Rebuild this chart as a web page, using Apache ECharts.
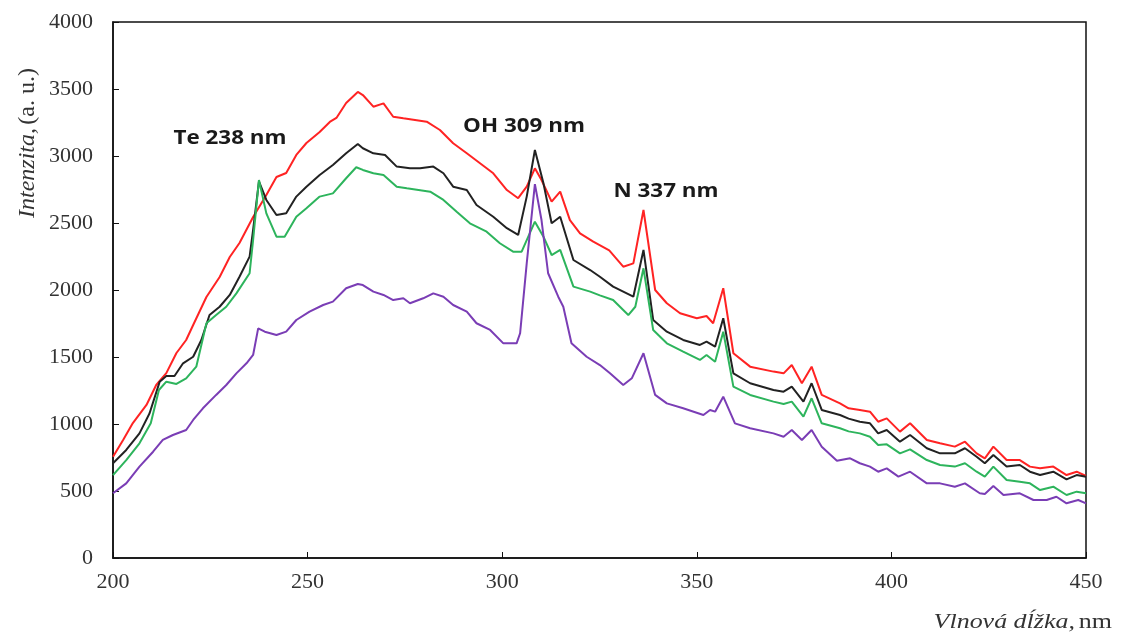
<!DOCTYPE html>
<html>
<head>
<meta charset="utf-8">
<script src="https://cdn.jsdelivr.net/npm/echarts@6/dist/echarts.min.js"></script>
<style>
  html, body { margin: 0; padding: 0; background: #fff; }
  #chart { width: 1126px; height: 637px; }
</style>
</head>
<body>
<div id="chart"></div>
<script>
// wavelength (nm) and intensity (a. u.)
const redNm = [200, 202.6, 205.1, 208.6, 211.1, 213.7, 216.3, 218.8, 220.6, 224, 227.4, 230, 232.5, 236, 239.4, 242, 244.5, 247.1, 249.7, 253.1, 255.7, 257.4, 259.9, 262.9, 264.2, 266.9, 269.5, 272, 274.6, 280.6, 284, 287.4, 290.9, 294.3, 297.7, 301.2, 304.1, 306.3, 308.4, 310.1, 312.7, 314.9, 317.4, 320, 323.4, 327.5, 331.1, 333.7, 336.3, 339.3, 342.3, 345.7, 350, 352.5, 354.2, 356.8, 359.4, 363.7, 369.7, 372.3, 374.4, 377, 379.5, 382.1, 386.8, 389, 391.9, 394.5, 396.6, 398.8, 402.2, 404.8, 409.1, 412.5, 416.3, 418.9, 421.9, 424, 426.2, 429.6, 433, 435.6, 438.2, 441.6, 445, 447.6, 450];
const redVal = [755, 880, 1007, 1142, 1291, 1380, 1530, 1627, 1739, 1948, 2097, 2246, 2351, 2545, 2709, 2843, 2873, 3008, 3097, 3179, 3254, 3284, 3396, 3478, 3455, 3368, 3393, 3293, 3281, 3256, 3194, 3095, 3020, 2946, 2871, 2746, 2685, 2771, 2908, 2821, 2659, 2734, 2522, 2423, 2361, 2295, 2174, 2199, 2597, 2000, 1901, 1826, 1789, 1806, 1752, 2013, 1528, 1428, 1391, 1378, 1440, 1304, 1428, 1217, 1154, 1117, 1105, 1092, 1017, 1042, 943, 1005, 881, 856, 831, 868, 781, 744, 831, 731, 731, 682, 669, 682, 619, 644, 612];

const blackNm = [200, 203.4, 206.8, 209.4, 212, 213.7, 215.8, 218, 220.6, 222.7, 224.8, 227.4, 230, 232.5, 235.1, 236, 237.5, 239.4, 242, 244.5, 247.1, 249.7, 253.1, 256.5, 259.9, 262.9, 264.2, 266.9, 269.9, 272.9, 276.3, 278.9, 282.3, 284.9, 287.4, 290.9, 293.4, 297.7, 301.2, 304.1, 306.3, 308.4, 310.6, 312.7, 314.9, 318.3, 322.6, 325.1, 328.5, 333.7, 336.3, 338.8, 342.3, 346.5, 350.8, 352.5, 354.7, 356.8, 359.4, 363.7, 369.7, 372.3, 374.4, 377.4, 379.5, 382.1, 386.8, 389, 391.9, 394.5, 396.6, 398.8, 402.2, 404.8, 409.1, 412.5, 416.3, 418.9, 421.9, 424, 426.2, 429.6, 433, 435.6, 438.2, 441.6, 445, 447.6, 450];
const blackVal = [707, 806, 930, 1080, 1316, 1358, 1358, 1453, 1502, 1627, 1813, 1875, 1963, 2099, 2249, 2448, 2810, 2672, 2560, 2572, 2697, 2771, 2858, 2933, 3020, 3090, 3058, 3020, 3008, 2921, 2908, 2908, 2921, 2871, 2771, 2746, 2634, 2547, 2461, 2411, 2697, 3045, 2796, 2498, 2547, 2224, 2149, 2099, 2025, 1950, 2299, 1776, 1689, 1627, 1590, 1614, 1577, 1789, 1378, 1304, 1254, 1241, 1279, 1167, 1304, 1105, 1067, 1040, 1017, 1005, 930, 955, 868, 918, 819, 781, 781, 819, 756, 707, 769, 682, 694, 644, 619, 644, 587, 619, 607];

const greenNm = [200, 203.4, 206.8, 209.7, 211.8, 213.7, 216.3, 218.8, 221.4, 224, 226.5, 229.1, 231.7, 235.1, 236, 237.5, 239.4, 242, 244.1, 247.1, 249.7, 253.1, 256.5, 259.9, 262.5, 264.2, 266.9, 269.5, 272.9, 275.5, 281.5, 284.9, 288.3, 291.7, 296, 299.4, 302.8, 305, 306.7, 308.4, 310.6, 312.7, 314.9, 318.3, 322.6, 325.1, 328.5, 332.4, 334.2, 336.3, 338.8, 342.3, 346.5, 350.8, 352.5, 354.7, 356.8, 359.4, 363.7, 369.7, 372.3, 374.4, 377.4, 379.5, 382.1, 386.8, 389, 391.9, 394.5, 396.6, 398.8, 402.2, 404.8, 409.1, 412.5, 416.3, 418.9, 421.9, 424, 426.2, 429.6, 433, 435.6, 438.2, 441.6, 445, 447.6, 450];
const greenVal = [619, 731, 856, 1005, 1254, 1316, 1299, 1341, 1428, 1752, 1813, 1875, 1975, 2125, 2373, 2821, 2572, 2398, 2398, 2547, 2610, 2697, 2721, 2834, 2916, 2896, 2871, 2858, 2771, 2759, 2734, 2672, 2584, 2498, 2435, 2349, 2286, 2286, 2398, 2510, 2398, 2261, 2299, 2025, 1988, 1960, 1925, 1813, 1875, 2162, 1701, 1602, 1540, 1478, 1515, 1465, 1689, 1279, 1217, 1167, 1149, 1167, 1055, 1192, 1005, 968, 945, 930, 905, 843, 848, 781, 811, 731, 694, 682, 707, 644, 607, 682, 582, 569, 557, 507, 532, 470, 495, 483];

const purpleNm = [200, 203.4, 206.8, 210.3, 212.8, 215.4, 218.8, 220.6, 223.1, 226.5, 229.1, 231.7, 234.3, 236, 237.3, 239, 242, 244.5, 247.1, 250.5, 254, 256.5, 259.9, 262.9, 264.2, 266.9, 269.5, 272, 274.6, 276.3, 279.7, 282.3, 284.9, 287.4, 290.9, 293.4, 296.9, 300.3, 303.7, 304.6, 306.3, 308.4, 310.1, 311.8, 314.4, 315.7, 317.8, 321.7, 325.1, 327.7, 331.1, 333.3, 336.3, 339.3, 342.3, 346.5, 351.7, 353.4, 354.7, 356.8, 359.8, 363.7, 369.7, 372.3, 374.4, 377, 379.5, 382.1, 386, 389.4, 391.9, 394.5, 396.6, 398.8, 401.8, 404.8, 409.1, 412.5, 416.3, 418.9, 422.7, 424, 426.2, 428.8, 433, 436.5, 439.9, 442.4, 445, 448, 450];
const purpleVal = [483, 557, 682, 793, 881, 918, 955, 1030, 1117, 1217, 1291, 1378, 1453, 1515, 1714, 1689, 1664, 1689, 1776, 1838, 1888, 1913, 2013, 2045, 2037, 1988, 1963, 1925, 1938, 1901, 1938, 1975, 1950, 1888, 1838, 1752, 1702, 1602, 1602, 1677, 2199, 2790, 2522, 2125, 1950, 1875, 1602, 1502, 1440, 1378, 1291, 1341, 1528, 1217, 1154, 1117, 1067, 1105, 1092, 1204, 1005, 968, 930, 905, 955, 881, 955, 831, 725, 744, 707, 682, 644, 669, 607, 644, 557, 557, 532, 557, 483, 478, 537, 470, 483, 433, 433, 457, 408, 433, 408];

const xTicks = [200, 250, 300, 350, 400, 450];
const yMax = 4000;

const peakLabels = [
  { text: "Te 238 nm", x: 230, y: 139 },
  { text: "OH 309 nm", x: 524, y: 127 },
  { text: "N 337 nm", x: 666, y: 192 }
];

function pairs(xs, ys) {
  return xs.map((x, i) => [x, ys[i]]);
}

const chart = echarts.init(document.getElementById("chart"));
const serif = "Liberation Serif";
const lineSeries = (name, xs, ys, color) => ({
  name: name,
  type: "line",
  data: pairs(xs, ys),
  symbol: "none",
  smooth: false,
  lineStyle: { color: color, width: 2 },
  itemStyle: { color: color }
});

const option = {
  animation: false,
  backgroundColor: "#fff",
  grid: {
    left: 113,
    right: 40,
    top: 22,
    bottom: 79,
    show: true,
    borderColor: "#111",
    borderWidth: 1.5
  },
  xAxis: {
    type: "value",
    min: xTicks[0],
    max: xTicks[xTicks.length - 1],
    interval: 50,
    axisLine: { lineStyle: { color: "#111", width: 1.5 } },
    axisTick: { inside: true, length: 6, lineStyle: { color: "#111" } },
    splitLine: { show: false },
    axisLabel: { color: "#333", fontFamily: serif, fontSize: 22, margin: 13 }
  },
  yAxis: {
    type: "value",
    min: 0,
    max: yMax,
    interval: 500,
    axisLine: { show: true, lineStyle: { color: "#111", width: 1.5 } },
    axisTick: { show: true, inside: true, length: 6, lineStyle: { color: "#111" } },
    splitLine: { show: false },
    axisLabel: {
      color: "#333",
      fontFamily: serif,
      fontSize: 22,
      margin: 20,
      formatter: v => String(v)
    }
  },
  series: [
    lineSeries("red", redNm, redVal, "#ff2323"),
    lineSeries("black", blackNm, blackVal, "#222222"),
    lineSeries("green", greenNm, greenVal, "#2db45c"),
    lineSeries("purple", purpleNm, purpleVal, "#7a3db5")
  ],
  graphic: peakLabels.map(l => ({
    type: "text",
    x: l.x,
    y: l.y,
    scaleX: 1.18,
    style: {
      text: l.text,
      fill: "#1a1a1a",
      font: "bold 19px 'Open Sans', sans-serif",
      textAlign: "center",
      textVerticalAlign: "middle"
    }
  })).concat([
    {
      type: "text",
      x: 28,
      y: 143,
      rotation: Math.PI / 2,
      style: {
        text: "{i|Intenzita,} {n|(a. u.)}",
        textAlign: "center",
        textVerticalAlign: "middle",
        rich: {
          i: { fontFamily: serif, fontStyle: "italic", fontSize: 24, fill: "#333" },
          n: { fontFamily: serif, fontSize: 24, fill: "#333" }
        }
      }
    },
    {
      type: "text",
      x: 1112,
      y: 622,
      scaleX: 1.18,
      style: {
        text: "{i|Vlnová dĺžka,} {n|nm}",
        textAlign: "right",
        textVerticalAlign: "middle",
        rich: {
          i: { fontFamily: serif, fontStyle: "italic", fontSize: 22, fill: "#333" },
          n: { fontFamily: serif, fontSize: 22, fill: "#333" }
        }
      }
    }
  ])
};

chart.setOption(option);
window.addEventListener("resize", chart.resize);
</script>
</body>
</html>
